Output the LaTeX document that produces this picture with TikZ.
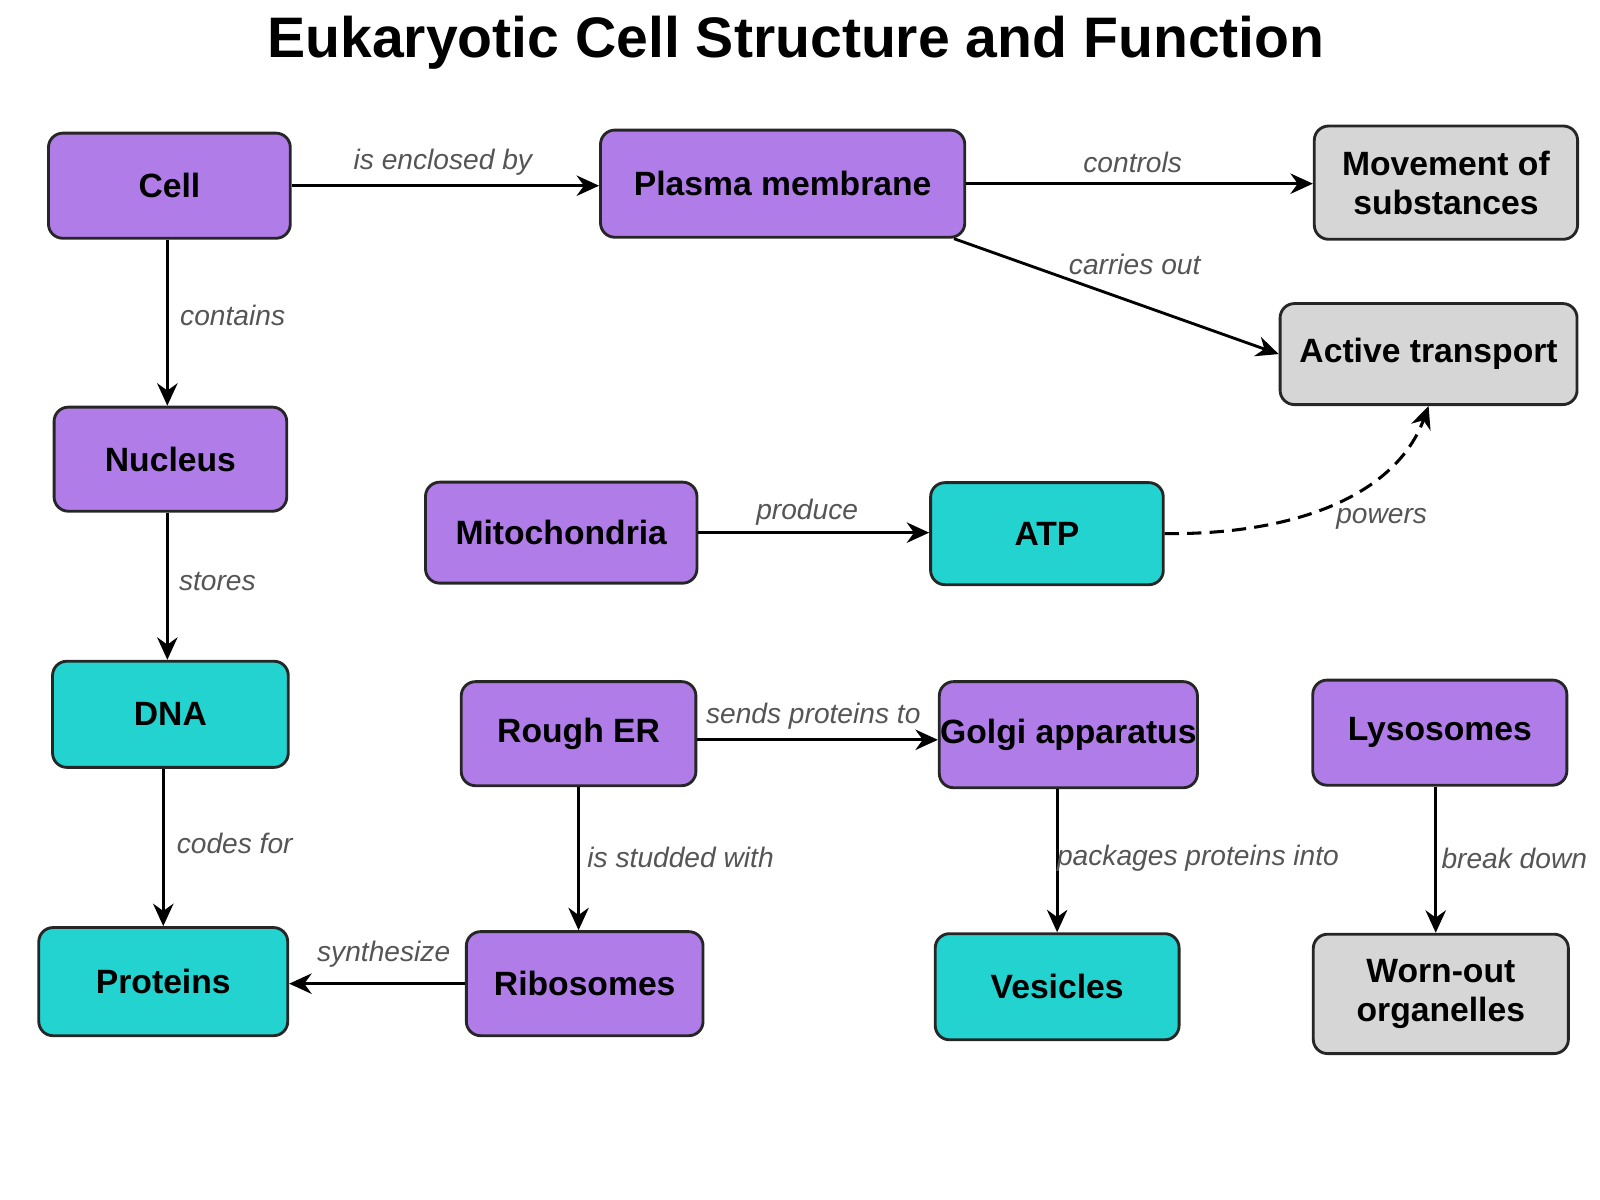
\documentclass[tikz,border=0pt]{standalone}
\usepackage{fontspec}
\setmainfont{Liberation Sans}
\usetikzlibrary{arrows.meta}
\definecolor{pur}{HTML}{B07CE8}
\definecolor{tea}{HTML}{22D3D0}
\definecolor{gry}{HTML}{D6D6D6}
\definecolor{lbl}{HTML}{555555}
\begin{document}
\begin{tikzpicture}[x=0.5pt,y=-0.5pt,
 box/.style={draw=black!85,line width=1.4pt,rounded corners=7pt,font=\bfseries\fontsize{16.5}{19}\selectfont,align=center,inner sep=0pt},
 pbox/.style={box,fill=pur},tbox/.style={box,fill=tea},gbox/.style={box,fill=gry},
 lab/.style={font=\itshape\fontsize{13.8}{16}\selectfont,text=lbl},
 arr/.style={-{Stealth[length=11pt,width=10pt]},line width=1.4pt}]
\useasboundingbox (0,0) rectangle (1568,1176);
\node[font=\bfseries\fontsize{28}{31}\selectfont] (title) at (780,42) {Eukaryotic Cell Structure and Function};
\node[pbox,minimum width=118.5pt,minimum height=51.5pt] (cell) at (166,182) {Cell};
\node[pbox,minimum width=178.5pt,minimum height=52.5pt] (pm) at (767,180) {Plasma membrane};
\node[gbox,minimum width=129pt,minimum height=55.5pt] (mov) at (1417,179) {Movement of\\substances};
\node[gbox,minimum width=145.5pt,minimum height=49.5pt] (act) at (1400,347) {Active transport};
\node[pbox,minimum width=114pt,minimum height=51pt] (nuc) at (167,450) {Nucleus};
\node[pbox,minimum width=133pt,minimum height=49.5pt] (mit) at (550,522) {Mitochondria};
\node[tbox,minimum width=114pt,minimum height=50pt] (atp) at (1026,523) {ATP};
\node[tbox,minimum width=115.5pt,minimum height=52pt] (dna) at (167,700) {DNA};
\node[pbox,minimum width=115pt,minimum height=51pt] (rer) at (567,719) {Rough ER};
\node[pbox,minimum width=126.5pt,minimum height=52pt] (gol) at (1047,720) {Golgi apparatus};
\node[pbox,minimum width=124.5pt,minimum height=51.5pt] (lys) at (1411,718) {Lysosomes};
\node[tbox,minimum width=122pt,minimum height=53pt] (pro) at (160,962) {Proteins};
\node[pbox,minimum width=116pt,minimum height=51pt] (rib) at (573,964) {Ribosomes};
\node[tbox,minimum width=119.5pt,minimum height=52pt] (ves) at (1036,967) {Vesicles};
\node[gbox,minimum width=125pt,minimum height=58.5pt] (worn) at (1412,974) {Worn-out\\organelles};
\draw[arr] (cell.east) -- (pm.west |- cell.east);
\draw[arr] (pm.east) -- (mov.west |- pm.east);
\draw[arr] (pm.south east) ++(-6pt,0) coordinate (c1) -- (act.west);
\coordinate (c2) at (164,234);
\draw[arr] (cell.south -| c2) -- (nuc.north -| c2);
\draw[arr] (nuc.south -| c2) -- (dna.north -| c2);
\coordinate (c3) at (160,0);
\draw[arr] (dna.south -| c3) -- (pro.north -| c3);
\draw[arr] (mit.east) -- (atp.west |- mit.east);
\draw[arr,dash pattern=on 7pt off 4pt,line width=1.5pt] (atp.east) .. controls (1280,524) and (1370,480) .. (act.south);
\draw[arr] (rer.east |- 0,725) -- (gol.west |- 0,725);
\draw[arr] (rer.south) -- (rib.north -| rer.south);
\draw[arr] (rib.west) -- (pro.east |- rib.west);
\draw[arr] (gol.south -| ves.north) -- (ves.north);
\draw[arr] (lys.south -| 1407,0) -- (worn.north -| 1407,0);
\node[lab] (l1) at (434,159) {is enclosed by};
\node[lab] (l2) at (1110,159) {controls};
\node[lab] (l3) at (1112,259) {carries out};
\node[lab] (l4) at (228,309) {contains};
\node[lab] (l5) at (213,570) {stores};
\node[lab] (l6) at (791,502) {produce};
\node[lab] (l7) at (1354,508) {powers};
\node[lab] (l8) at (797,702) {sends proteins to};
\node[lab] (l9) at (230,827) {codes for};
\node[lab] (l10) at (667,840) {is studded with};
\node[lab] (l11) at (1174,841) {packages proteins into};
\node[lab] (l12) at (1484,841) {break down};
\node[lab] (l13) at (376,935) {synthesize};
\end{tikzpicture}
\end{document}
